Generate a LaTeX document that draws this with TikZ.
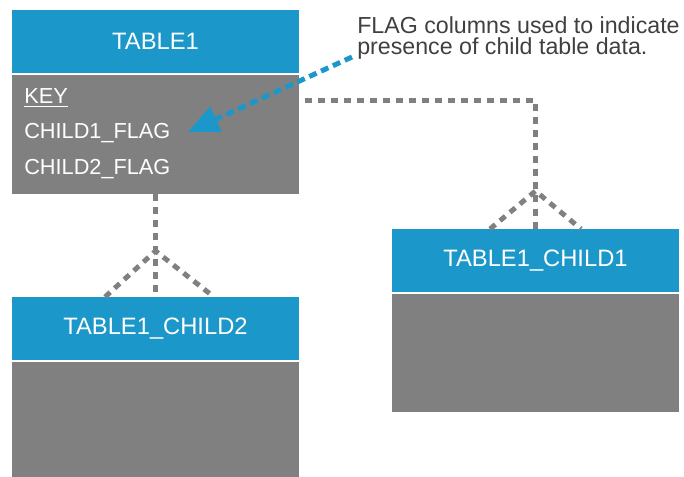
\documentclass[tikz,border=0pt]{standalone}
\usepackage{fontspec}
\setmainfont{Liberation Sans}
\usepackage{tikz}
\usetikzlibrary{arrows.meta}

\definecolor{tblblue}{RGB}{27,152,201}
\definecolor{tblgray}{RGB}{128,128,128}
\definecolor{notegray}{RGB}{64,64,64}

\tikzset{
  hdr/.style={fill=tblblue, text=white, minimum width=215.25pt, minimum height=47.25pt, inner sep=0pt, font=\fontsize{17.8}{21}\selectfont},
  tblbody/.style={fill=tblgray, minimum width=215.25pt, inner sep=0pt},
  colname/.style={anchor=base west, text=white, inner sep=0pt, font=\fontsize{16.3}{19}\selectfont},
  noteline/.style={anchor=base west, text=notegray, inner sep=0pt, font=\fontsize{17.4}{20}\selectfont},
  link/.style={draw=tblgray, line width=3.75pt, dash pattern=on 5.25pt off 4.5pt},
  flagarrow/.style={draw=tblblue, line width=3.75pt, dash pattern=on 6pt off 3.75pt, -{Triangle[length=23pt,width=20pt]}}
}

\begin{document}
\begin{tikzpicture}[x=0.75pt,y=0.75pt,yscale=-1,xscale=1]
\path[use as bounding box] (0,0) rectangle (684,477);

% parent table
\node (t1) [hdr] at (155.5,41.5) {TABLE1};
\node (t1body) [tblbody, minimum height=89.25pt] at (155.5,134.5) {};
\node (key) [colname] at (24,104) {\underline{KEY}};
\node (flag1) [colname] at (24,139) {CHILD1\_FLAG};
\node (flag2) [colname] at (24,175) {CHILD2\_FLAG};

% child tables
\node (c1) [hdr] at (535.5,260.5) {TABLE1\_CHILD1};
\node (c1body) [tblbody, minimum height=88.5pt] at (535.5,353) {};
\node (c2) [hdr] at (155.5,328.5) {TABLE1\_CHILD2};
\node (c2body) [tblbody, minimum height=86.25pt] at (155.5,419.5) {};

% note
\node (notea) [noteline] at (357,34) {FLAG columns used to indicate};
\node (noteb) [noteline] at (357,55) {presence of child table data.};
\coordinate (notetail) at (352,57);
\coordinate (flagtip) at (188,132);
\draw [flagarrow] (notetail) -- (flagtip);

% relations
\coordinate (c1start) at (305,101);
\coordinate (c1apex) at (535.5,191);
\coordinate (c1left) at (490,229);
\coordinate (c1right) at (581,229);
\draw [link] (c1start) -| (c1.north);
\draw [link] (c1left) -- (c1apex) -- (c1right);

\coordinate (c2apex) at (155.5,251);
\coordinate (c2left) at (105,297);
\coordinate (c2right) at (214,297);
\draw [link] (t1body.south) -- (c2.north);
\draw [link] (c2left) -- (c2apex) -- (c2right);
\end{tikzpicture}
\end{document}
